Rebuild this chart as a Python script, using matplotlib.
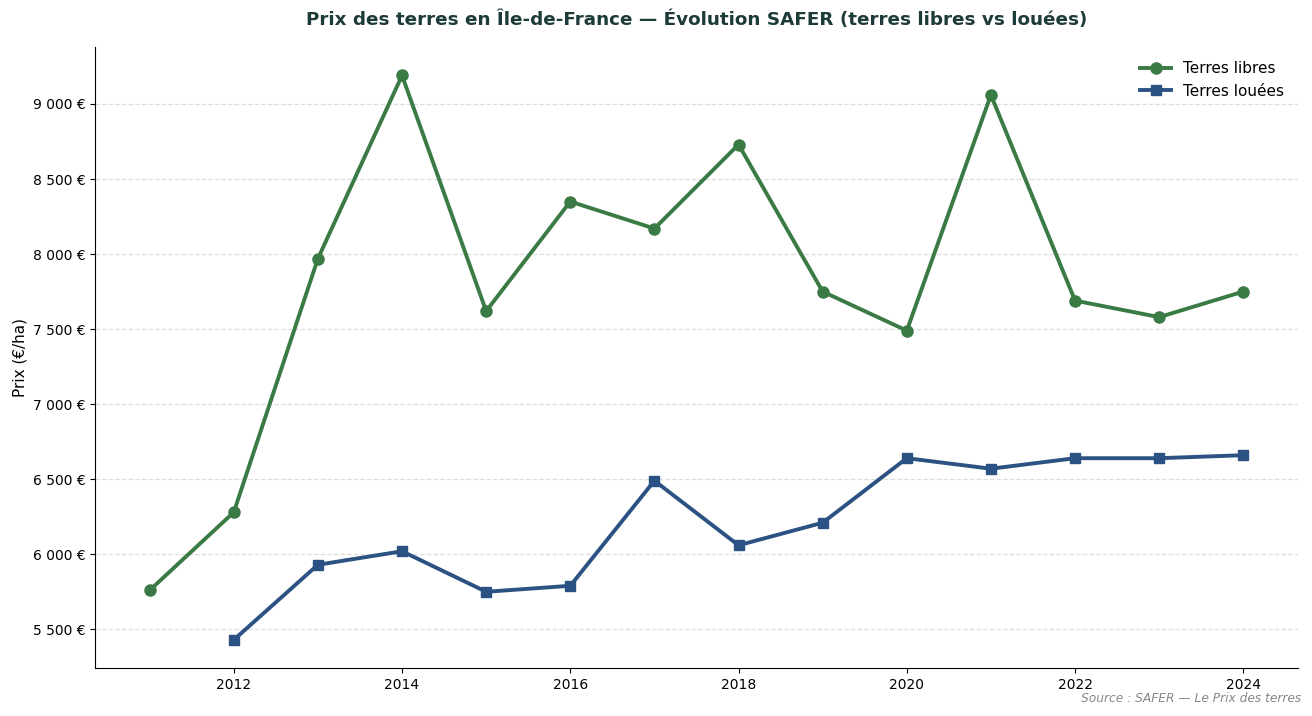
import matplotlib
matplotlib.use("Agg")
import matplotlib.pyplot as plt
from matplotlib.ticker import FuncFormatter, MultipleLocator

years_libres = [2011, 2012, 2013, 2014, 2015, 2016, 2017, 2018, 2019, 2020, 2021, 2022, 2023, 2024]
prix_libres = [5760, 6280, 7970, 9190, 7620, 8350, 8170, 8730, 7750, 7490, 9060, 7690, 7580, 7750]
years_louees = [2012, 2013, 2014, 2015, 2016, 2017, 2018, 2019, 2020, 2021, 2022, 2023, 2024]
prix_louees = [5430, 5930, 6020, 5750, 5790, 6490, 6060, 6210, 6640, 6570, 6640, 6640, 6660]

fig = plt.figure(figsize=(13.12, 7.16), dpi=100)
ax = fig.add_axes([0.0724, 0.067, 0.9169, 0.867])

ax.plot(years_libres, prix_libres, color="#3a7a45", lw=2.8, marker="o", ms=8, label="Terres libres")
ax.plot(years_louees, prix_louees, color="#2b5282", lw=2.8, marker="s", ms=7.5, label="Terres louées")

ax.yaxis.set_major_locator(MultipleLocator(500))
ax.yaxis.set_major_formatter(FuncFormatter(lambda v, p: f"{int(v):,} €".replace(",", " ")))
ax.xaxis.set_major_locator(MultipleLocator(2))
ax.grid(axis="y", linestyle="--", color="#dddddd", lw=0.9)
ax.set_axisbelow(True)
for s in ["top", "right"]:
    ax.spines[s].set_visible(False)
ax.set_ylabel("Prix (€/ha)", fontsize=11)
ax.set_title("Prix des terres en Île-de-France — Évolution SAFER (terres libres vs louées)",
             fontsize=13.2, fontweight="bold", color="#1d3b38", pad=16)
ax.legend(loc="upper right", frameon=False, fontsize=11)
fig.text(0.992, 0.016, "Source : SAFER — Le Prix des terres", ha="right", va="bottom",
         fontsize=8.8, style="italic", color="#888888")

fig.savefig("out.png", dpi=100)
